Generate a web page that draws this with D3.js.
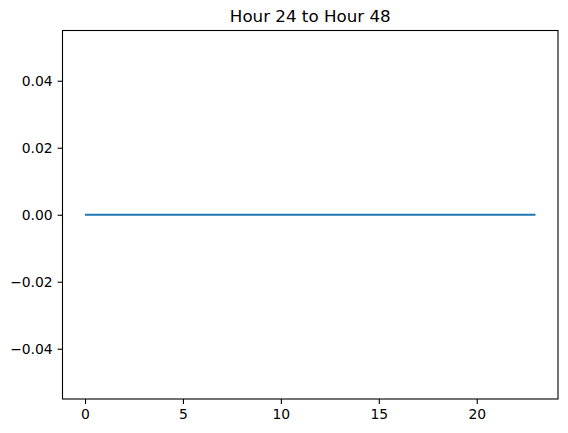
<!DOCTYPE html>
<html>
<head>
<meta charset="utf-8">
<script src="https://cdn.jsdelivr.net/npm/d3@7"></script>
<style>
  body { margin: 0; background: #fff; }
  svg { display: block; font-family: "DejaVu Sans", sans-serif; }
  .axis text { font-family: "DejaVu Sans", sans-serif; font-size: 13.9px; fill: #000; }
  .axis path, .axis line { stroke: #000; stroke-width: 1.1px; }
</style>
</head>
<body>
<svg width="568" height="433"></svg>
<script>
var title = "Hour 24 to Hour 48";
var hours = d3.range(0, 24);
var values = [0, 0, 0, 0, 0, 0, 0, 0, 0, 0, 0, 0,
              0, 0, 0, 0, 0, 0, 0, 0, 0, 0, 0, 0];
var xTicks = [0, 5, 10, 15, 20];
var yTicks = [-0.04, -0.02, 0, 0.02, 0.04];

var svg = d3.select("svg"),
    margin = {top: 30.5, right: 10, bottom: 34, left: 62.5},
    width = 568 - margin.left - margin.right,
    height = 433 - margin.top - margin.bottom,
    g = svg.append("g").attr("transform", "translate(" + margin.left + "," + margin.top + ")");

var x = d3.scaleLinear()
    .domain([-1.15, 24.15])
    .range([0, width]);

var y = d3.scaleLinear()
    .domain([-0.055, 0.055])
    .range([height, 0]);

var data = hours.map(function(h, i) { return {hour: h, value: values[i]}; });

var line = d3.line()
    .x(function(d) { return x(d.hour); })
    .y(function(d) { return y(d.value); });

g.append("path")
    .datum(data)
    .attr("fill", "none")
    .attr("stroke", "#1f77b4")
    .attr("stroke-width", 2.08)
    .attr("d", line);

var fmt = function(d) { return d3.format(".2f")(d).replace("-", "\u2212"); };

g.append("g")
    .attr("class", "axis")
    .attr("transform", "translate(0," + height + ")")
    .call(d3.axisBottom(x).tickValues(xTicks).tickSize(4.9).tickPadding(4.9).tickFormat(d3.format("d")))
    .call(function(a) { a.select(".domain").remove(); a.selectAll("text").attr("dy", "0.75em"); });

g.append("g")
    .attr("class", "axis")
    .call(d3.axisLeft(y).tickValues(yTicks).tickSize(4.9).tickPadding(4.9).tickFormat(fmt))
    .call(function(a) { a.select(".domain").remove(); });

// frame
g.append("rect")
    .attr("width", width)
    .attr("height", height)
    .attr("fill", "none")
    .attr("stroke", "#000")
    .attr("stroke-width", 1.1);

svg.append("text")
    .attr("x", margin.left + width / 2)
    .attr("y", margin.top - 8.3)
    .attr("text-anchor", "middle")
    .attr("font-size", "16.7px")
    .text(title);
</script>
</body>
</html>
